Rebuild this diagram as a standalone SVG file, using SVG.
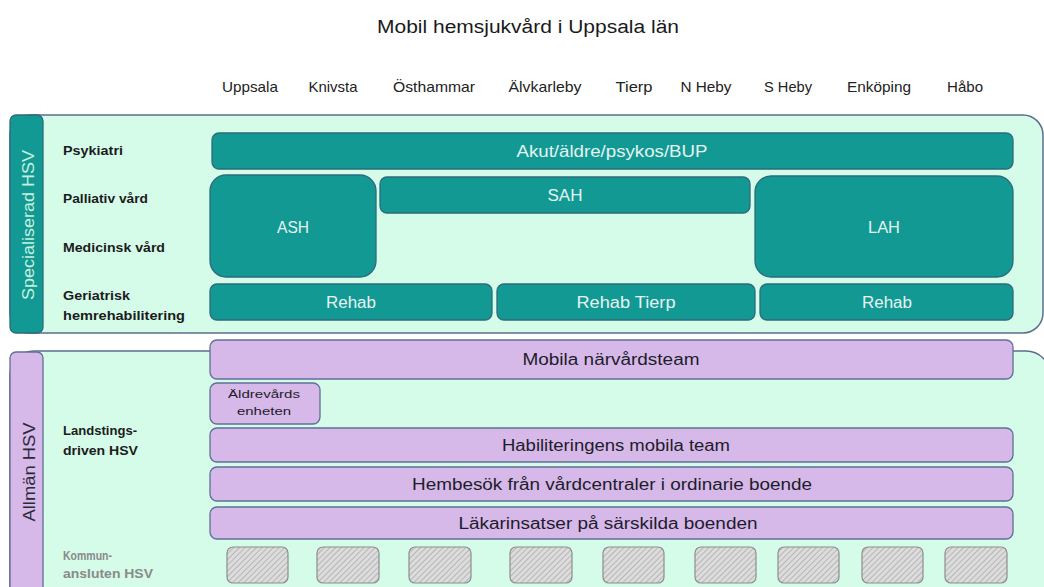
<svg xmlns="http://www.w3.org/2000/svg" width="1044" height="587" viewBox="0 0 1044 587">
<defs>
<pattern id="hatch" width="4" height="4" patternUnits="userSpaceOnUse" patternTransform="rotate(45)">
<rect width="4" height="4" fill="#dcdcdc"/>
<line x1="0" y1="0" x2="0" y2="4" stroke="#9c9c9c" stroke-width="1.2"/>
</pattern>
</defs>
<style>
text{font-family:"Liberation Sans",Arial,sans-serif}
.panel{fill:#d5fbe9;stroke:#5b6e8e;stroke-width:1.5}
.teal{fill:#139994;stroke:#2d6b7c;stroke-width:1.3}
.lilac{fill:#d6b8e9;stroke:#5f7096;stroke-width:1.3}
.hatch{fill:url(#hatch);stroke:#8e8e8e;stroke-width:1.2}
.title{font-size:18px;fill:#1a1a1a}
.hdr{font-size:15px;fill:#222}
.lbl{font-size:13.5px;font-weight:bold;fill:#1c1c1c}
.gray{fill:#8a8a8a}
.tw{font-size:16px;fill:#e4f4f1;text-anchor:middle}
.td{font-size:16px;fill:#1d1d2b;text-anchor:middle}
.side{font-size:17px;text-anchor:middle}
</style>
<rect width="1044" height="587" fill="#ffffff"/>
<text class="title" x="528" y="33" text-anchor="middle" textLength="302" lengthAdjust="spacingAndGlyphs">Mobil hemsjukvård i Uppsala län</text>
<g id="headers" class="hdr" text-anchor="middle">
<text x="250" y="92" textLength="56" lengthAdjust="spacingAndGlyphs">Uppsala</text>
<text x="333" y="92" textLength="49" lengthAdjust="spacingAndGlyphs">Knivsta</text>
<text x="434" y="92" textLength="82" lengthAdjust="spacingAndGlyphs">Östhammar</text>
<text x="545" y="92" textLength="73" lengthAdjust="spacingAndGlyphs">Älvkarleby</text>
<text x="634" y="92" textLength="37" lengthAdjust="spacingAndGlyphs">Tierp</text>
<text x="706" y="92" textLength="51" lengthAdjust="spacingAndGlyphs">N Heby</text>
<text x="788" y="92" textLength="48" lengthAdjust="spacingAndGlyphs">S Heby</text>
<text x="879" y="92" textLength="64" lengthAdjust="spacingAndGlyphs">Enköping</text>
<text x="965" y="92" textLength="36" lengthAdjust="spacingAndGlyphs">Håbo</text>
</g>
<g id="specialiserad">
<rect class="panel" x="10" y="115" width="1033" height="218" rx="20"/>
<rect class="teal" x="10" y="115" width="33" height="218" rx="6"/>
<text class="side" fill="#c6f0de" transform="translate(34,225) rotate(-90)" textLength="150" lengthAdjust="spacingAndGlyphs">Specialiserad HSV</text>
<text class="lbl" x="63" y="155" textLength="60" lengthAdjust="spacingAndGlyphs">Psykiatri</text>
<text class="lbl" x="63" y="203" textLength="85" lengthAdjust="spacingAndGlyphs">Palliativ vård</text>
<text class="lbl" x="63" y="252" textLength="102" lengthAdjust="spacingAndGlyphs">Medicinsk vård</text>
<text class="lbl" x="63" y="300" textLength="67" lengthAdjust="spacingAndGlyphs">Geriatrisk</text>
<text class="lbl" x="63" y="320" textLength="122" lengthAdjust="spacingAndGlyphs">hemrehabilitering</text>
</g>
<g id="akut"><rect class="teal" x="212" y="133" width="801" height="36" rx="7"/><text class="tw" x="612" y="157" textLength="191" lengthAdjust="spacingAndGlyphs">Akut/äldre/psykos/BUP</text></g>
<g id="ash"><rect class="teal" x="210" y="175" width="166" height="102" rx="16"/><text class="tw" x="293" y="233" textLength="32" lengthAdjust="spacingAndGlyphs">ASH</text></g>
<g id="sah"><rect class="teal" x="380" y="177" width="370" height="36" rx="7"/><text class="tw" x="565" y="201" textLength="35" lengthAdjust="spacingAndGlyphs">SAH</text></g>
<g id="lah"><rect class="teal" x="755" y="176" width="258" height="101" rx="16"/><text class="tw" x="884" y="233" textLength="32" lengthAdjust="spacingAndGlyphs">LAH</text></g>
<g id="rehab1"><rect class="teal" x="210" y="284" width="282" height="36" rx="7"/><text class="tw" x="351" y="308" textLength="50" lengthAdjust="spacingAndGlyphs">Rehab</text></g>
<g id="rehab2"><rect class="teal" x="497" y="284" width="258" height="36" rx="7"/><text class="tw" x="626" y="308" textLength="99" lengthAdjust="spacingAndGlyphs">Rehab Tierp</text></g>
<g id="rehab3"><rect class="teal" x="760" y="284" width="253" height="36" rx="7"/><text class="tw" x="887" y="308" textLength="50" lengthAdjust="spacingAndGlyphs">Rehab</text></g>
<g id="allman">
<rect class="panel" x="10" y="351" width="1040" height="270" rx="24"/>
<rect class="lilac" x="10" y="352" width="33" height="250" rx="6"/>
<text class="side" fill="#2a2a38" transform="translate(35,472) rotate(-90)" textLength="99" lengthAdjust="spacingAndGlyphs">Allmän HSV</text>
<text class="lbl" x="63" y="435" textLength="74" lengthAdjust="spacingAndGlyphs">Landstings-</text>
<text class="lbl" x="63" y="455" textLength="75" lengthAdjust="spacingAndGlyphs">driven HSV</text>
<text class="lbl gray" x="63" y="560" textLength="49" lengthAdjust="spacingAndGlyphs">Kommun-</text>
<text class="lbl gray" x="63" y="578" textLength="90" lengthAdjust="spacingAndGlyphs">ansluten HSV</text>
</g>
<g id="mobila"><rect class="lilac" x="210" y="340" width="803" height="39" rx="7"/><text class="td" x="611" y="365" textLength="177" lengthAdjust="spacingAndGlyphs">Mobila närvårdsteam</text></g>
<g id="aldrevard"><rect class="lilac" x="210" y="383" width="110" height="41" rx="7"/><text class="td" x="264" y="398" style="font-size:11.5px" textLength="72" lengthAdjust="spacingAndGlyphs">Äldrevårds</text><text class="td" x="264" y="415" style="font-size:11.5px" textLength="54" lengthAdjust="spacingAndGlyphs">enheten</text></g>
<g id="habilitering"><rect class="lilac" x="210" y="428" width="803" height="34" rx="7"/><text class="td" x="616" y="451" textLength="228" lengthAdjust="spacingAndGlyphs">Habiliteringens mobila team</text></g>
<g id="hembesok"><rect class="lilac" x="210" y="467" width="803" height="34" rx="7"/><text class="td" x="612" y="490" textLength="400" lengthAdjust="spacingAndGlyphs">Hembesök från vårdcentraler i ordinarie boende</text></g>
<g id="lakarinsatser"><rect class="lilac" x="210" y="507" width="803" height="32" rx="7"/><text class="td" x="608" y="529" textLength="299" lengthAdjust="spacingAndGlyphs">Läkarinsatser på särskilda boenden</text></g>
<g id="kommun">
<rect class="hatch" x="227" y="547" width="61" height="36" rx="6"/>
<rect class="hatch" x="317" y="547" width="62" height="36" rx="6"/>
<rect class="hatch" x="409" y="547" width="62" height="36" rx="6"/>
<rect class="hatch" x="510" y="547" width="62" height="36" rx="6"/>
<rect class="hatch" x="603" y="547" width="61" height="36" rx="6"/>
<rect class="hatch" x="695" y="547" width="61" height="36" rx="6"/>
<rect class="hatch" x="778" y="547" width="61" height="36" rx="6"/>
<rect class="hatch" x="862" y="547" width="61" height="36" rx="6"/>
<rect class="hatch" x="945" y="547" width="62" height="36" rx="6"/>
</g>
<g id="connectors"></g>
</svg>
